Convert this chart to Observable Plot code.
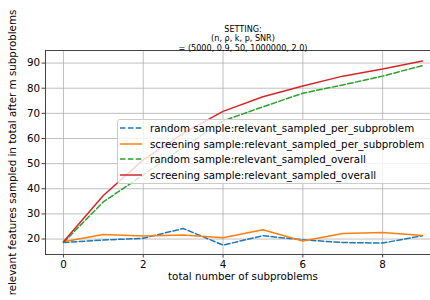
<!DOCTYPE html>
<html>
<head>
<meta charset="utf-8">
<script src="https://cdn.jsdelivr.net/npm/d3@7"></script>
<script src="https://cdn.jsdelivr.net/npm/@observablehq/plot@0.6"></script>
<style>
  html, body { margin: 0; padding: 0; background: #fff; }
  body { width: 430px; height: 300px; overflow: hidden; font-family: "DejaVu Sans", sans-serif; }
  #wrap { position: relative; width: 430px; height: 300px; overflow: hidden; }
  #legend { position: absolute; left: 117px; top: 119px; width: 340px; height: 65px;
    background: rgba(255,255,255,0.8); border: 1px solid #cccccc; border-radius: 3px;
    font-family: "DejaVu Sans", sans-serif; font-size: 10.3px; color: #000; box-sizing: border-box; }
  .row { position: absolute; left: 0; height: 14px; display: flex; align-items: center; white-space: nowrap; }
  .row svg { margin-left: 2px; margin-right: 7px; }
</style>
</head>
<body>
<div id="wrap"><div id="legend"></div></div>
<script>
const steps = [0, 1, 2, 3, 4, 5, 6, 7, 8, 9];
const randomPer = [18.6, 19.6, 20.3, 24.2, 17.6, 21.3, 19.7, 18.6, 18.4, 21.3];
const screeningPer = [18.9, 21.8, 21.2, 21.6, 20.5, 23.7, 19.2, 22.2, 22.6, 21.4];
const randomOverall = [18.6, 34.8, 45.5, 56.5, 67.0, 72.6, 78.0, 81.3, 84.8, 89.0];
const screeningOverall = [18.9, 37.3, 51.5, 62.0, 70.8, 76.6, 80.9, 84.8, 87.6, 90.8];
const seriesNames = [
  "random sample:relevant_sampled_per_subproblem",
  "screening sample:relevant_sampled_per_subproblem",
  "random sample:relevant_sampled_overall",
  "screening sample:relevant_sampled_overall"
];
const seriesColors = ["#1f77b4", "#ff7f0e", "#2ca02c", "#d62728"];
const seriesDashed = [true, false, true, false];
const xTicks = [0, 2, 4, 6, 8];
const yTicks = [20, 30, 40, 50, 60, 70, 80, 90];
const titleText = "SETTING:\n(n, ρ, k, p, SNR)\n= (5000, 0.9, 50, 1000000, 2.0)";
const xLabel = "total number of subproblems";
const yLabel = "relevant features sampled in total after m subproblems";

const allValues = [randomPer, screeningPer, randomOverall, screeningOverall];
const rows = [];
allValues.forEach((vals, s) => steps.forEach((x, i) => rows.push({x, y: vals[i], s})));

const font = "DejaVu Sans, sans-serif";
const lineMarks = allValues.map((vals, s) => Plot.line(rows.filter(d => d.s === s), {
  x: "x", y: "y", stroke: seriesColors[s], strokeWidth: 1.5,
  strokeDasharray: seriesDashed[s] ? "5.5,2.4" : null
}));

const chart = Plot.plot({
  width: 430,
  height: 300,
  marginLeft: 45,
  marginRight: 0,
  marginTop: 50,
  marginBottom: 46,
  style: {fontFamily: font, fontSize: "10.3px", background: "transparent", color: "#000"},
  x: {domain: [-0.45, 9.2]},
  y: {domain: [13.85, 95]},
  marks: [
    Plot.gridX(xTicks, {stroke: "#b0b0b0", strokeOpacity: 1, strokeWidth: 0.8}),
    Plot.gridY(yTicks, {stroke: "#b0b0b0", strokeOpacity: 1, strokeWidth: 0.8}),
    ...lineMarks,
    Plot.frame({anchor: "top", stroke: "#444", strokeWidth: 1}),
    Plot.frame({anchor: "left", stroke: "#444", strokeWidth: 1}),
    Plot.frame({anchor: "bottom", stroke: "#444", strokeWidth: 1}),
    Plot.axisX(xTicks, {label: null, tickSize: 3.5, tickPadding: 3, fontSize: 10.3, stroke: "#444"}),
    Plot.axisY(yTicks, {label: null, tickSize: 3.5, tickPadding: 2, fontSize: 10.3, stroke: "#444"}),
    Plot.text([titleText], {frameAnchor: "top", dx: 5, dy: -12, lineAnchor: "middle", lineHeight: 1.13, fontSize: 8.1, fill: "#000"}),
    Plot.text([xLabel], {frameAnchor: "bottom", dx: 5, dy: 25, fontSize: 10.3, fill: "#000"}),
    Plot.text([yLabel], {frameAnchor: "left", dx: -33, rotate: -90, textAnchor: "middle", fontSize: 10.3, fill: "#000"})
  ]
});
const wrap = document.getElementById("wrap");
wrap.insertBefore(chart, wrap.firstChild);

const legend = document.getElementById("legend");
seriesNames.forEach((name, s) => {
  const row = document.createElement("div");
  row.className = "row";
  row.style.top = (1 + s * 15.6) + "px";
  const ns = "http://www.w3.org/2000/svg";
  const sv = document.createElementNS(ns, "svg");
  sv.setAttribute("width", "23"); sv.setAttribute("height", "10");
  const ln = document.createElementNS(ns, "line");
  ln.setAttribute("x1", "0"); ln.setAttribute("x2", "22");
  ln.setAttribute("y1", "5"); ln.setAttribute("y2", "5");
  ln.setAttribute("stroke", seriesColors[s]); ln.setAttribute("stroke-width", "1.5");
  if (seriesDashed[s]) ln.setAttribute("stroke-dasharray", "5.5,2.4");
  sv.appendChild(ln);
  row.appendChild(sv);
  const t = document.createElement("span");
  t.textContent = name;
  row.appendChild(t);
  legend.appendChild(row);
});
</script>
</body>
</html>
